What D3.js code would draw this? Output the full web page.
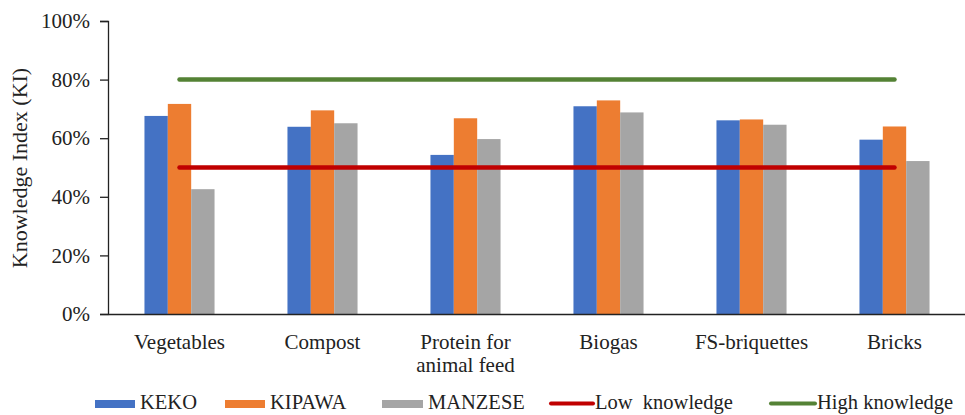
<!DOCTYPE html>
<html><head><meta charset="utf-8">
<script src="https://cdn.jsdelivr.net/npm/d3@7/dist/d3.min.js"></script>
<style>body{margin:0;background:#fff}svg{display:block}</style>
</head><body><svg id="c" width="965" height="415"></svg>
<script>
const categories = ["Vegetables","Compost","Protein for animal feed","Biogas","FS-briquettes","Bricks"];
const categoryLines = [["Vegetables"],["Compost"],["Protein for","animal feed"],["Biogas"],["FS-briquettes"],["Bricks"]];
const seriesNames = ["KEKO","KIPAWA","MANZESE"];
const keko    = [0.676,0.639,0.543,0.709,0.661,0.595];
const kipawa  = [0.717,0.695,0.668,0.729,0.664,0.640];
const manzese = [0.426,0.651,0.597,0.688,0.646,0.522];
const lowKnowledge = 0.50;
const highKnowledge = 0.80;
const yTicks = [0,0.2,0.4,0.6,0.8,1.0];
const colors = ["#4472C4","#ED7D31","#A5A5A5"];
const lowColor = "#C00000", highColor = "#548235";

(function(){
const FONT = "'Liberation Serif','Times New Roman',serif";
const TXT = "#222";
const svg = d3.select("#c");
const mLeft = 108, mRight = 966, mTop = 21, mBottom = 314;
const x0 = d3.scaleBand().domain(categories).range([mLeft,mRight]).paddingInner(0.51).paddingOuter(0.255);
const x1 = d3.scaleBand().domain(seriesNames).range([0,x0.bandwidth()]).padding(0);
const y = d3.scaleLinear().domain([0,1]).range([mBottom,mTop]);
const series = [keko,kipawa,manzese];

// bars
const g = svg.append("g");
categories.forEach((c,i)=>{
  seriesNames.forEach((s,j)=>{
    g.append("rect").attr("x",x0(c)+x1(s)).attr("y",y(series[j][i]))
     .attr("width",x1.bandwidth()).attr("height",y(0)-y(series[j][i])).attr("fill",colors[j]);
  });
});

// y axis
const ya = svg.append("g").attr("transform",`translate(${mLeft},0)`)
  .call(d3.axisLeft(y).tickValues(yTicks).tickFormat(d3.format(".0%")).tickSize(8).tickPadding(10));
ya.select(".domain").attr("stroke",TXT).attr("stroke-width",1.3);
ya.selectAll(".tick line").attr("stroke",TXT).attr("stroke-width",1.3);
ya.selectAll(".tick text").style("font-family",FONT).style("font-size","21px").style("fill",TXT);

// x axis line
const xa = svg.append("g").attr("transform",`translate(0,${mBottom})`)
  .call(d3.axisBottom(x0).tickSize(0).tickFormat(""));
xa.select(".domain").attr("stroke",TXT).attr("stroke-width",1.3);
xa.selectAll(".tick").each(function(d,i){
  const t = d3.select(this).append("text").attr("text-anchor","middle")
    .style("font-family",FONT).style("font-size","21px").style("fill",TXT);
  categoryLines[i].forEach((ln,k)=>t.append("tspan").attr("x",0).attr("y",35+k*23).text(ln));
});

// reference lines
const xs = x0(categories[0])+x0.bandwidth()/2, xe = x0(categories[categories.length-1])+x0.bandwidth()/2;
const line = d3.line().x(d=>d[0]).y(d=>y(d[1]));
svg.append("path").attr("d",line([[xs,highKnowledge],[xe,highKnowledge]])).attr("stroke",highColor).attr("stroke-width",4.5).attr("stroke-linecap","round").attr("fill","none");
svg.append("path").attr("d",line([[xs,lowKnowledge],[xe,lowKnowledge]])).attr("stroke",lowColor).attr("stroke-width",4.5).attr("stroke-linecap","round").attr("fill","none");

// y title
svg.append("text").attr("transform","translate(27,168) rotate(-90)").attr("text-anchor","middle")
  .style("font-family",FONT).style("font-size","22px").style("fill",TXT).text("Knowledge Index (KI)");

// legend
const legend = [
  {name:"KEKO",type:"rect",color:colors[0],x:95,w:40},
  {name:"KIPAWA",type:"rect",color:colors[1],x:225,w:40},
  {name:"MANZESE",type:"rect",color:colors[2],x:382,w:41},
  {name:"Low\u00a0 knowledge",type:"line",color:lowColor,x:551,w:42},
  {name:"High knowledge",type:"line",color:highColor,x:771,w:44}
];
const lg = svg.append("g");
legend.forEach(it=>{
  if(it.type==="rect") lg.append("rect").attr("x",it.x).attr("y",400).attr("width",it.w).attr("height",8).attr("fill",it.color);
  else lg.append("line").attr("x1",it.x).attr("x2",it.x+it.w).attr("y1",403.5).attr("y2",403.5).attr("stroke",it.color).attr("stroke-width",4).attr("stroke-linecap","round");
  lg.append("text").attr("x",it.x+it.w+(it.type==="rect"?5:2)).attr("y",409)
    .style("font-family",FONT).style("font-size","20.5px").style("fill",TXT).text(it.name);
});
})();
</script></body></html>
